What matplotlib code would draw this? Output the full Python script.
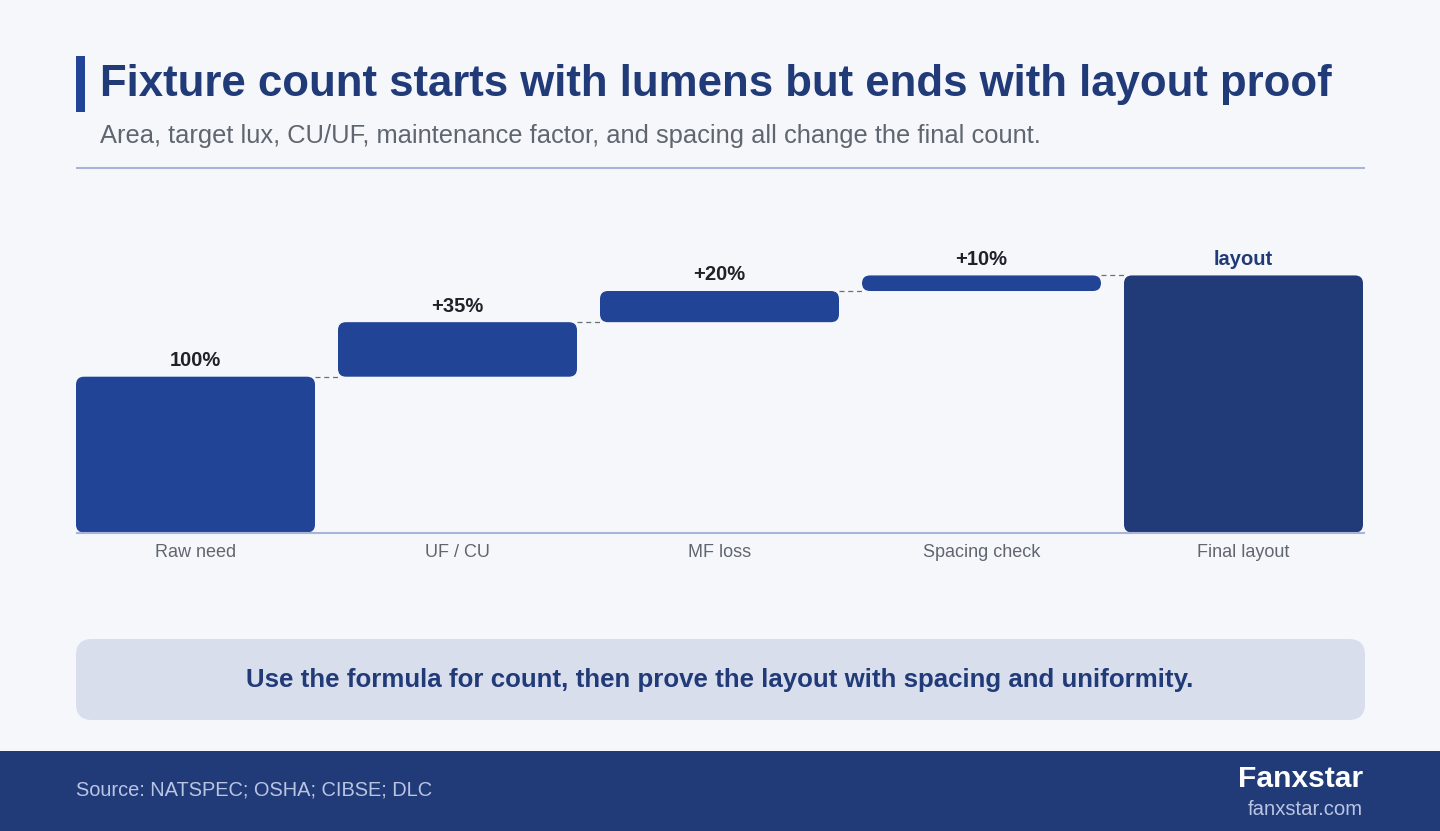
import matplotlib
matplotlib.use("Agg")
import matplotlib.pyplot as plt
from matplotlib.patches import FancyBboxPatch, Rectangle

plt.rcParams['font.family'] = ['Liberation Sans', 'DejaVu Sans']

W = 1440
H = 831

BG = "#f5f7fb"
NAVY = "#213a78"
BLUE = "#214497"
GRAY = "#5f6670"
RULE = "#aab4d8"

# data
categories = ["Raw need", "UF / CU", "MF loss", "Spacing check", "Final layout"]
bottoms = [0, 100, 135, 155, 0]
heights = [100, 35, 20, 10, 165]
labels = ["100%", "+35%", "+20%", "+10%", "layout"]

fig = plt.figure(figsize=(W / 100, H / 100), dpi=100, facecolor=BG)

# page layer in pixel coords
page = fig.add_axes([0, 0, 1, 1])
page.set_xlim(0, W)
page.set_ylim(H, 0)
page.axis("off")

page.add_patch(Rectangle((76, 56), 9, 56, color=BLUE, lw=0))
page.text(100, 96, "Fixture count starts with lumens but ends with layout proof", fontsize=31.48,
          fontweight="bold", color=NAVY, va="baseline", ha="left")
page.text(100, 143, "Area, target lux, CU/UF, maintenance factor, and spacing all change the final count.",
          fontsize=18.39, color=GRAY, va="baseline", ha="left")
page.plot([76, 1365], [168, 168], color=RULE, lw=1.5, solid_capstyle="butt")

page.add_patch(FancyBboxPatch((76 + 16, 639 + 16), 1289 - 32, 81 - 32,
                              boxstyle="round,pad=16,rounding_size=16", fc="#d9deed", ec="none"))
page.text(720, 687, "Use the formula for count, then prove the layout with spacing and uniformity.",
          fontsize=18.62, fontweight="bold", color=NAVY, va="baseline", ha="center")

page.add_patch(Rectangle((0, 751), W, 80, color=NAVY, lw=0))
page.text(76, 796, "Source: NATSPEC; OSHA; CIBSE; DLC", fontsize=14.43, color="#b9c5e3", va="baseline", ha="left")
page.text(1363, 787, "Fanxstar", fontsize=21.6, fontweight="bold", color="white", va="baseline", ha="right")
page.text(1363, 815, "fanxstar.com", fontsize=14.6, color="#b9c5e3", va="baseline", ha="right")

# chart, x unit = one bar slot, y unit = percent of raw need
left = 76
right = 1365
base = 532.5
top = 240
px_x = 262.0
px_y = 1.558
ax = fig.add_axes([left / W, 1 - base / H, (right - left) / W, (base - top) / H])
ax.patch.set_alpha(0)
bar_w = 239 / px_x
ax.set_xlim(-bar_w / 2, -bar_w / 2 + (right - left) / px_x)
ax.set_ylim(0, (base - top) / px_y)
for s in ["top", "left", "right"]:
    ax.spines[s].set_visible(False)
ax.spines["bottom"].set_color(RULE)
ax.spines["bottom"].set_linewidth(1.5)
ax.spines["bottom"].set_capstyle("butt")
ax.set_yticks([])
ax.set_xticks(range(len(categories)))
ax.set_xticklabels(categories, fontsize=13, color=GRAY)
ax.tick_params(axis="x", length=0, pad=8)

# corner radius 8 px in data units
rx = 8 / px_x
ry = 8 / px_y
for i in range(len(categories)):
    color = NAVY if i == len(categories) - 1 else BLUE
    box = FancyBboxPatch((i - bar_w / 2, bottoms[i]), bar_w, heights[i],
                         boxstyle="round,pad=0,rounding_size=%f" % rx,
                         mutation_aspect=ry / rx, fc=color, ec="none")
    ax.add_patch(box)
    top_val = bottoms[i] + heights[i]
    ax.text(i, top_val + 4.2, labels[i], ha="center", va="bottom", fontsize=14.5, fontweight="bold",
            color=NAVY if i == len(categories) - 1 else "#1f2329")
    if i < len(categories) - 1:
        ax.plot([i + bar_w / 2, i + 1 - bar_w / 2], [top_val, top_val], color="#6b7078", lw=0.9,
                ls=(0, (4, 3)))

fig.savefig("out.png", dpi=100, facecolor=BG)
